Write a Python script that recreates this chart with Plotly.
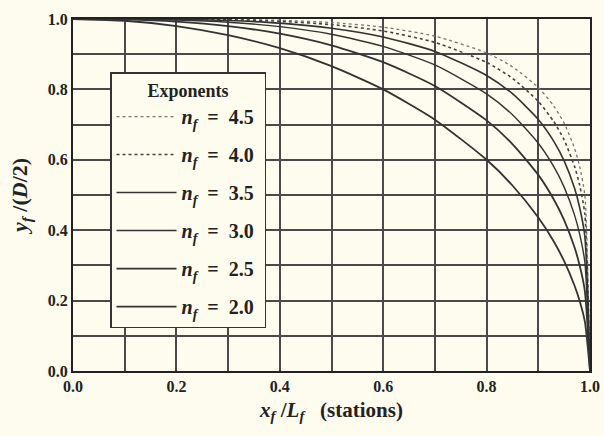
import plotly.graph_objects as go

# Stations (x_f / L_f)
x_stations = [0.0, 0.1, 0.2, 0.3, 0.4, 0.5, 0.6, 0.7, 0.8, 0.85, 0.9, 0.93, 0.95, 0.97, 0.98, 0.99, 1.0]

# y_f/(D/2) read for each exponent
y_n45 = [1.0, 1.0, 0.9998, 0.999, 0.9964, 0.990, 0.9768, 0.9514, 0.9036, 0.8643, 0.8054, 0.7528, 0.704, 0.6335, 0.5811, 0.50, 0.0]
y_n40 = [1.0, 1.0, 0.9996, 0.998, 0.9935, 0.984, 0.9659, 0.9337, 0.8766, 0.8315, 0.7658, 0.7085, 0.6563, 0.582, 0.5278, 0.4455, 0.0]
y_n35 = [1.0, 0.9999, 0.999, 0.9958, 0.9883, 0.9739, 0.949, 0.9079, 0.8395, 0.7877, 0.7145, 0.6524, 0.5969, 0.5196, 0.4645, 0.3825, 0.0]
y_n30 = [1.0, 0.9997, 0.9973, 0.9909, 0.9782, 0.9565, 0.9221, 0.8694, 0.7873, 0.728, 0.6471, 0.5805, 0.5224, 0.4436, 0.3889, 0.3097, 0.0]
y_n25 = [1.0, 0.9987, 0.9928, 0.980, 0.9582, 0.9251, 0.8774, 0.8097, 0.7119, 0.6448, 0.5571, 0.4874, 0.4288, 0.3516, 0.2998, 0.2279, 0.0]
y_n20 = [1.0, 0.995, 0.980, 0.954, 0.917, 0.866, 0.800, 0.714, 0.600, 0.527, 0.436, 0.368, 0.312, 0.243, 0.199, 0.141, 0.0]

exponent_labels = ["4.5", "4.0", "3.5", "3.0", "2.5", "2.0"]
series = [y_n45, y_n40, y_n35, y_n30, y_n25, y_n20]
dashes = ["dot", "dot", "solid", "solid", "solid", "solid"]
widths = [1.3, 1.6, 1.6, 1.4, 1.8, 1.8]
colors = ["#777777", "#444444", "#333333", "#333333", "#333333", "#333333"]

x_ticks = [0.0, 0.2, 0.4, 0.6, 0.8, 1.0]
tick_text = ["0.0", "0.2", "0.4", "0.6", "0.8", "1.0"]

BG = "#fdfcee"
GRID = "#4a4a4a"
FONT = "Liberation Serif"
NB = "\u00a0"

fig = go.Figure()
for i, (lab, ys) in enumerate(zip(exponent_labels, series)):
    fig.add_trace(go.Scatter(
        x=x_stations, y=ys, mode="lines",
        line=dict(color=colors[i], width=widths[i], dash=dashes[i], shape="spline", smoothing=0.6),
        name=f"<b><i>n</i><sub><i>f</i></sub>{NB}{NB}={NB}{NB}{lab}{NB}</b>",
        legendgroup=lab,
    ))

axis_common = dict(
    range=[0, 1], showline=True, linecolor="#222", linewidth=2, mirror=True,
    showgrid=True, gridcolor=GRID, gridwidth=1.5,
    minor=dict(dtick=0.1, showgrid=True, gridcolor=GRID, gridwidth=1.5),
    zeroline=False, ticks="", automargin=False,
    tickfont=dict(family=FONT, size=16, color="#222"),
    tickvals=x_ticks, ticktext=[f"<b>{t}</b>" for t in tick_text],
)

fig.update_layout(
    width=604, height=436,
    margin=dict(l=73, r=14, t=19, b=65),
    paper_bgcolor=BG, plot_bgcolor=BG,
    font=dict(family=FONT, color="#222"),
    xaxis=dict(**axis_common,
               title=dict(text=f"<b><i>x</i><sub><i>f</i></sub> /<i>L</i><sub><i>f</i></sub>{NB}{NB}{NB}(stations)</b>",
                          font=dict(family=FONT, size=21, color="#222"), standoff=8)),
    yaxis=dict(**axis_common,
               title=dict(text="<b><i>y</i><sub><i>f</i></sub> /(<i>D</i>/2)</b>",
                          font=dict(family=FONT, size=22, color="#222"), standoff=14)),
    showlegend=True,
    legend=dict(
        x=0.0716, y=0.849, xanchor="left", yanchor="top",
        bgcolor=BG, bordercolor="#333", borderwidth=1.5,
        font=dict(family=FONT, size=20, color="#222"),
        title=dict(text="<b>Exponents</b>", side="top center", font=dict(family=FONT, size=18)),
        tracegroupgap=9, itemwidth=60,
    ),
)

fig.write_html("out.html")
